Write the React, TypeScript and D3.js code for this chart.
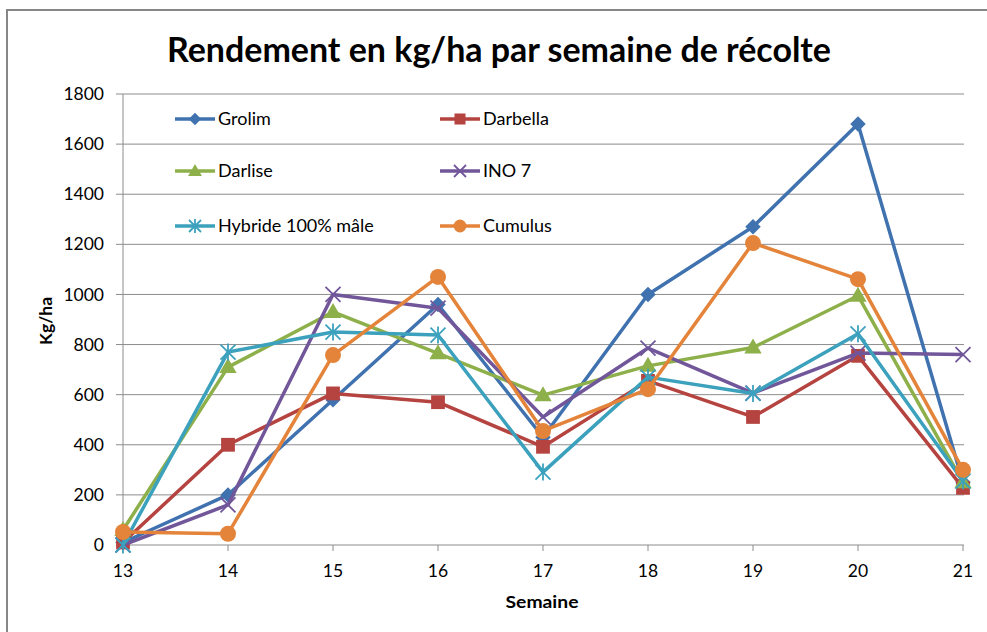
import * as d3 from "d3";

const weeks = [13, 14, 15, 16, 17, 18, 19, 20, 21];
const yTicks = [0, 200, 400, 600, 800, 1000, 1200, 1400, 1600, 1800];

const grolim = [10, 200, 580, 960, 430, 1000, 1270, 1680, 250];
const darbella = [10, 400, 605, 570, 392, 655, 511, 755, 228];
const darlise = [60, 710, 930, 765, 598, 715, 788, 995, 250];
const ino7 = [0, 160, 1000, 945, 511, 786, 606, 766, 760];
const hybride = [0, 770, 850, 838, 291, 670, 605, 843, 255];
const cumulus = [52, 45, 758, 1070, 455, 622, 1205, 1061, 300];

const series = [
  { name: "Grolim", values: grolim, color: "#3F72AF", marker: "diamond" },
  { name: "Darbella", values: darbella, color: "#B5433F", marker: "square" },
  { name: "Darlise", values: darlise, color: "#8EB04B", marker: "triangle" },
  { name: "INO 7", values: ino7, color: "#71569A", marker: "x" },
  { name: "Hybride 100% mâle", values: hybride, color: "#3CA1BD", marker: "star" },
  { name: "Cumulus", values: cumulus, color: "#E4843A", marker: "circle" },
];

const FONT = "Lato, 'Open Sans', sans-serif";

function Marker({ type, x, y, color, k = 1 }: { type: string; x: number; y: number; color: string; k?: number }) {
  if (type === "diamond") {
    const p = d3.symbol(d3.symbolSquare, 120 * k * k)();
    return <path d={p!} transform={`translate(${x},${y}) rotate(45)`} fill={color} />;
  }
  if (type === "square") {
    const p = d3.symbol(d3.symbolSquare, 190 * k * k)();
    return <path d={p!} transform={`translate(${x},${y})`} fill={color} />;
  }
  if (type === "triangle") {
    const p = d3.symbol(d3.symbolTriangle, 130 * k * k)();
    return <path d={p!} transform={`translate(${x},${y + 1})`} fill={color} />;
  }
  if (type === "circle") {
    return <circle cx={x} cy={y} r={8 * k} fill={color} />;
  }
  const r = 7.5 * k;
  if (type === "x") {
    return (
      <g stroke={color} strokeWidth={1.8}>
        <line x1={x - r} y1={y - r} x2={x + r} y2={y + r} />
        <line x1={x - r} y1={y + r} x2={x + r} y2={y - r} />
      </g>
    );
  }
  // asterisk
  return (
    <g stroke={color} strokeWidth={1.8}>
      <line x1={x - r} y1={y - r} x2={x + r} y2={y + r} />
      <line x1={x - r} y1={y + r} x2={x + r} y2={y - r} />
      <line x1={x} y1={y - r - 1} x2={x} y2={y + r + 1} />
    </g>
  );
}

export default function App() {
  const W = 987;
  const H = 632;
  const x = d3.scalePoint<number>().domain(weeks).range([123, 963]);
  const y = d3.scaleLinear().domain([0, 1800]).range([545, 94]);

  const line = d3
    .line<number>()
    .x((_, i) => x(weeks[i])!)
    .y((d) => y(d));

  const legendPos = series.map((_, i) => ({
    lx: i % 2 === 0 ? 175 : 440,
    ly: [119, 171, 226][Math.floor(i / 2)],
  }));

  return (
    <svg width={W} height={H} style={{ position: "absolute", left: 0, top: 0 }} fontFamily={FONT}>
      <rect x={0} y={0} width={W} height={H} fill="#fff" />
      <path d={`M7,${H + 5} V10 H${W + 5}`} fill="none" stroke="#878787" strokeWidth={2} />

      <text
        x={499}
        y={62}
        textAnchor="middle"
        fontSize={34}
        fontWeight="bold"
        textLength={664}
        lengthAdjust="spacingAndGlyphs"
        fill="#000"
      >
        Rendement en kg/ha par semaine de récolte
      </text>

      {/* gridlines */}
      {yTicks.map((t) => (
        <g key={t}>
          {t > 0 && <line x1={123} x2={964} y1={y(t)} y2={y(t)} stroke="#8c8c8c" strokeWidth={1} />}
          <line x1={116} x2={123} y1={y(t)} y2={y(t)} stroke="#8c8c8c" />
          <text x={104} y={y(t)} dy="0.35em" textAnchor="end" fontSize={17.5} fill="#000">
            {t}
          </text>
        </g>
      ))}

      {/* axes */}
      <line x1={123} x2={123} y1={94} y2={545} stroke="#8c8c8c" />
      <line x1={123} x2={964} y1={545} y2={545} stroke="#8c8c8c" />
      {weeks.map((w) => (
        <g key={w}>
          <line x1={x(w)!} x2={x(w)!} y1={545} y2={551} stroke="#8c8c8c" />
          <text x={x(w)!} y={571} dy="0.35em" textAnchor="middle" fontSize={17.5} fill="#000">
            {w}
          </text>
        </g>
      ))}

      <text x={542} y={602} dy="0.35em" textAnchor="middle" fontSize={17} fontWeight="bold" textLength={73} lengthAdjust="spacingAndGlyphs">
        Semaine
      </text>
      <text
        transform={`translate(46,321) rotate(-90)`}
        dy="0.35em"
        textAnchor="middle"
        fontSize={17}
        fontWeight="bold"
        textLength={48}
        lengthAdjust="spacingAndGlyphs"
      >
        Kg/ha
      </text>

      {/* legend */}
      {series.map((s, i) => {
        const { lx, ly } = legendPos[i];
        return (
          <g key={s.name}>
            <line x1={lx} x2={lx + 40} y1={ly} y2={ly} stroke={s.color} strokeWidth={3.5} />
            <Marker type={s.marker} x={lx + 20} y={ly} color={s.color} k={0.8} />
            <text x={lx + 43} y={ly} dy="0.35em" fontSize={18} fill="#000">
              {s.name}
            </text>
          </g>
        );
      })}

      {/* series */}
      {series.map((s) => (
        <g key={s.name}>
          <path d={line(s.values)!} fill="none" stroke={s.color} strokeWidth={3.5} strokeLinejoin="round" />
          {s.values.map((v, i) => (
            <Marker key={i} type={s.marker} x={x(weeks[i])!} y={y(v)} color={s.color} />
          ))}
        </g>
      ))}
    </svg>
  );
}
